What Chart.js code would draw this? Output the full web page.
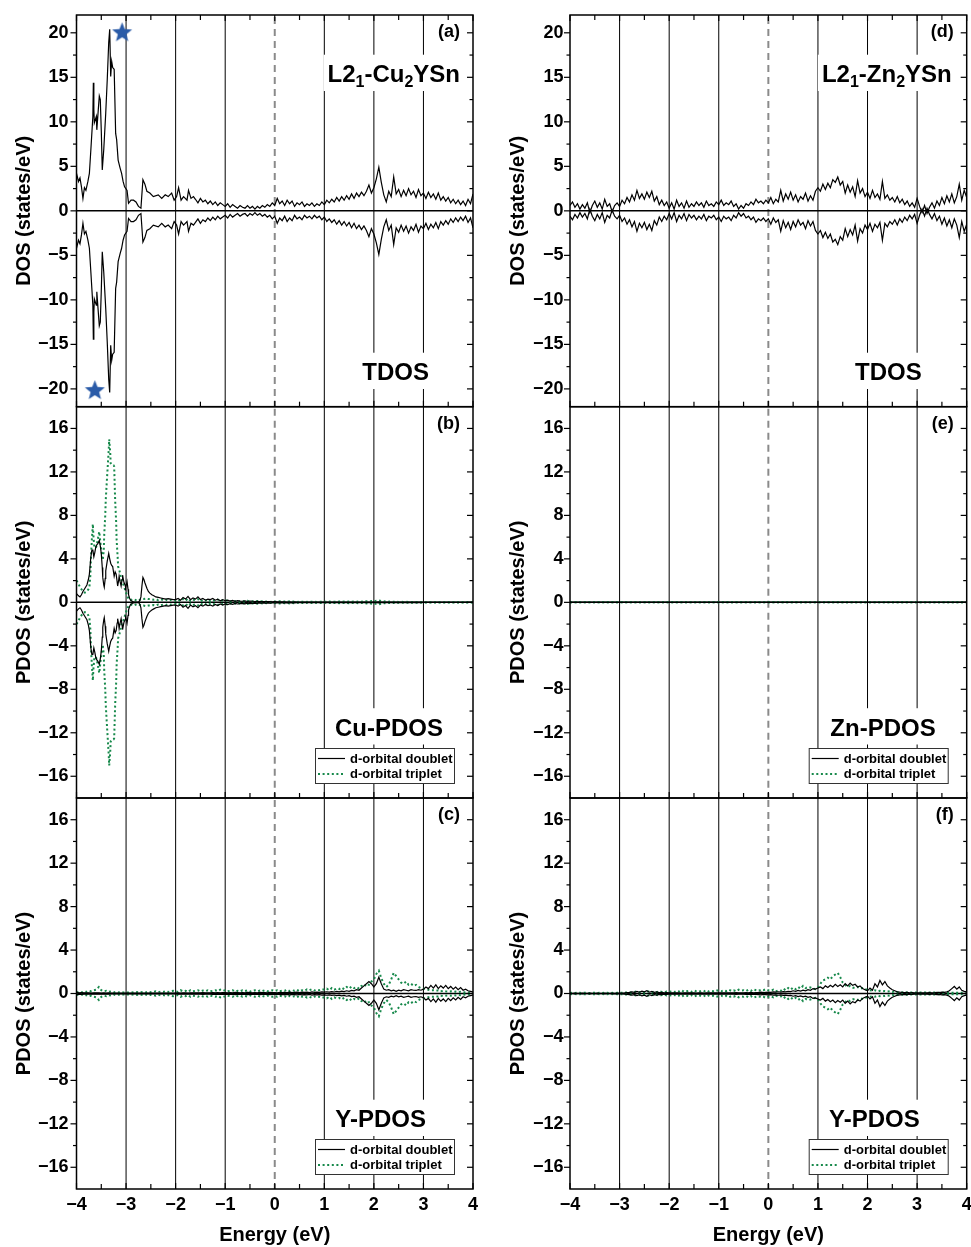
<!DOCTYPE html>
<html><head><meta charset="utf-8">
<script src="https://cdn.jsdelivr.net/npm/chart.js@4.4.1/dist/chart.umd.min.js"></script>
<style>
html,body{margin:0;padding:0;background:#fff;}
#wrap{position:relative;width:971px;height:1247px;overflow:hidden;}
#wrap canvas{position:absolute;left:0;top:0;}
</style></head><body>
<div id="wrap">
<canvas id="pa" width="971" height="1247"></canvas>
<canvas id="pb" width="971" height="1247"></canvas>
<canvas id="pc" width="971" height="1247"></canvas>
<canvas id="pd" width="971" height="1247"></canvas>
<canvas id="pe" width="971" height="1247"></canvas>
<canvas id="pf" width="971" height="1247"></canvas>
</div>
<script>
// ---------------- DATA ----------------
const energyStep = 0.05;
const xTicks = [-4, -3, -2, -1, 0, 1, 2, 3, 4];
const refLinesE = [-3, -2, -1, 1, 2, 3];
const fermiE = 0;
const dosTicks = [-20, -15, -10, -5, 0, 5, 10, 15, 20];
const pdosTicks = [-16, -12, -8, -4, 0, 4, 8, 12, 16];

// (a) Cu2YSn TDOS, spin up (spin down is its mirror image)
const cuTdosPeakE = [-4.00,-3.96,-3.93,-3.90,-3.87,-3.84,-3.81,-3.77,-3.74,-3.71,
  -3.67,-3.66,-3.65,-3.64,-3.60,-3.59,-3.56,-3.54,-3.52,-3.50,
  -3.48,-3.45,-3.41,-3.38,-3.35,-3.33,-3.31,-3.29,-3.27,-3.24,
  -3.21,-3.19,-3.16,-3.12,-3.09,-3.06,-3.03,-2.98,-2.95,-2.90,
  -2.85,-2.80,-2.75,-2.70,-2.66,-2.62,-2.58,-2.52,-2.45,-2.35,
  -2.28,-2.21,-2.15,-2.08,-2.03,-1.98,-1.94,-1.89,-1.84,-1.77,
  -1.74,-1.69,-1.64];
const cuTdosPeakUp = [4.2,3.3,3.7,2.7,1.4,2.6,2.3,3.3,4.2,6.9,
  10.6,14.4,11.4,9.9,10.6,9.1,11.4,12.9,12.5,9.0,
  4.6,6.9,11.0,14.7,18.9,20.4,15.1,16.8,16.1,15.9,
  8.7,8.0,5.7,4.8,4.2,3.3,2.7,2.3,0.85,1.2,
  1.2,1.0,0.5,0.3,3.5,3.0,2.2,2.0,1.6,1.8,
  1.4,1.8,1.6,2.0,1.2,1.6,2.6,1.2,1.6,1.2,
  2.3,1.4,1.6];
const cuTdosTailStart = -1.60;
const cuTdosTailUp = [1.3,0.9,1.4,1.0,1.2,0.8,1.1,0.7,1.0,0.6,0.9,0.7,
  0.5,0.8,0.4,0.7,0.5,0.3,0.6,0.4,0.3,0.6,0.3,0.5,0.2,0.5,0.3,0.6,0.4,0.7,0.5,0.9,
  0.6,1.4,0.8,1.1,0.6,1.2,0.8,1.1,0.5,0.9,0.7,1.0,0.5,0.8,0.6,0.9,0.5,0.8,0.6,1.0,
  0.7,1.2,0.9,1.3,1.0,1.5,1.1,1.6,1.2,1.7,1.3,1.9,1.4,2.0,1.6,2.1,1.7,2.2,2.9,2.0,
  2.6,3.6,4.9,3.2,1.8,1.0,2.2,1.6,3.8,1.9,2.4,1.6,2.3,1.7,2.5,1.8,2.2,1.5,2.4,1.7,
  2.0,1.4,2.1,1.5,1.9,1.3,2.0,1.2,1.6,1.1,1.5,0.9,1.3,0.8,1.2,0.7,1.1,0.6,1.3,0.8,
  1.9];
const starE = [-3.08, -3.63];
const starDos = [20.0, -20.2];

// (d) Zn2YSn TDOS, spin up, from -4 eV every 0.05 eV
const znTdosStart = -4.00;
const znTdosUp = [0.6,1.0,0.4,0.8,0.2,0.7,0.3,0.9,-0.2,0.6,1.1,0.4,0.9,0.2,1.3,0.5,0.8,-0.1,0.6,0.9,
  0.5,1.2,0.8,1.5,1.0,1.8,1.2,2.3,1.4,1.9,1.3,2.1,1.5,2.2,1.1,1.6,0.7,1.2,0.6,1.0,
  0.3,0.9,0.2,1.2,0.5,0.9,0.3,1.1,0.4,0.8,0.5,1.0,0.6,0.9,0.4,1.1,0.6,0.8,0.5,1.0,
  0.7,1.2,0.6,0.9,0.7,1.1,0.5,0.8,0.2,0.6,0.3,0.8,0.6,1.0,0.7,1.3,0.9,1.1,0.8,1.2,
  0.9,1.5,0.8,1.3,1.0,2.3,1.1,1.9,1.3,2.1,1.2,1.8,1.0,1.6,1.3,2.0,1.1,1.7,1.2,2.2,
  2.6,2.2,3.0,2.4,3.1,2.6,3.5,3.2,3.8,2.9,3.3,2.0,2.9,2.1,2.7,1.6,3.4,2.0,2.5,1.6,
  2.1,1.4,2.3,1.5,1.9,1.3,3.3,1.4,1.8,1.2,1.5,1.0,1.6,0.9,1.3,0.7,1.1,0.5,0.9,0.4,
  1.4,0.5,-0.2,0.6,-0.3,0.4,0.9,0.3,1.1,0.6,1.5,0.8,1.7,1.0,1.9,0.9,1.6,3.0,1.2,2.3,
  1.5];

// (b) Cu-PDOS, spin up
const cuDoubletPeakE = [-4.00,-3.96,-3.93,-3.90,-3.87,-3.83,-3.79,-3.76,-3.74,-3.71,
  -3.69,-3.67,-3.65,-3.63,-3.61,-3.59,-3.57,-3.55,-3.54,-3.52,
  -3.50,-3.48,-3.47,-3.45,-3.44,-3.42,-3.41,-3.38,-3.35,-3.33,
  -3.31,-3.29,-3.27,-3.25,-3.24,-3.22,-3.20,-3.18,-3.17,-3.15,
  -3.14,-3.12,-3.10,-3.08,-3.07,-3.05,-3.04,-3.02,-3.01,-2.99,
  -2.98,-2.96,-2.95,-2.93,-2.91,-2.88,-2.85,-2.80,-2.75,-2.72,
  -2.70,-2.68,-2.66,-2.64,-2.62,-2.58,-2.55,-2.52,-2.48,-2.44,
  -2.40,-2.35,-2.30,-2.25,-2.20,-2.15,-2.10,-2.05];
const cuDoubletPeakUp = [0.8,0.6,0.5,0.7,1.0,1.3,1.6,2.1,2.6,4.2,
  4.8,4.8,4.2,4.6,5.1,5.3,5.4,5.6,5.7,5.2,
  4.5,3.2,2.3,1.6,1.4,2.2,2.9,3.8,4.5,4.0,
  3.6,3.4,3.3,2.7,2.4,2.8,2.6,1.9,1.5,2.0,
  2.4,1.9,1.5,2.1,2.5,2.0,1.8,1.6,1.4,1.7,
  1.9,1.2,0.7,0.4,0.2,0.1,0.05,0.03,0.0,0.2,
  0.5,1.5,2.3,2.1,1.8,1.3,1.0,0.85,0.7,0.6,
  0.5,0.45,0.4,0.35,0.3,0.35,0.3,0.25];
const cuTripletPeakE = [-4.00,-3.96,-3.93,-3.90,-3.87,-3.83,-3.79,-3.76,-3.74,-3.72,
  -3.71,-3.69,-3.67,-3.66,-3.64,-3.61,-3.59,-3.57,-3.55,-3.54,
  -3.52,-3.50,-3.48,-3.47,-3.45,-3.44,-3.42,-3.41,-3.39,-3.37,
  -3.35,-3.34,-3.32,-3.31,-3.29,-3.27,-3.25,-3.24,-3.22,-3.20,
  -3.19,-3.17,-3.16,-3.12,-3.09,-3.06,-3.04,-3.01,-2.97,-2.94,
  -2.91,-2.85,-2.80,-2.75,-2.70,-2.65,-2.60,-2.55,-2.50,-2.45,
  -2.40,-2.35,-2.30,-2.25,-2.20,-2.15,-2.10,-2.05];
const cuTripletPeakUp = [2.0,1.7,1.4,1.2,1.0,0.9,1.0,1.2,1.4,2.5,
  3.9,5.8,7.2,6.2,5.1,5.0,5.3,5.8,6.3,6.5,
  5.6,4.8,4.2,3.9,4.8,6.3,8.0,9.4,11.0,12.5,
  14.0,15.0,13.8,12.8,12.7,12.6,12.6,12.5,9.4,7.4,
  5.7,4.2,3.3,2.7,2.0,1.7,1.5,1.0,0.5,0.3,
  0.2,0.3,0.2,0.15,0.3,0.3,0.35,0.3,0.3,0.25,
  0.3,0.2,0.28,0.2,0.25,0.15,0.22,0.18];
const cuPdosTailStart = -2.00;
const cuDoubletTailUp = [0.25,0.35,0.2,0.45,0.3,0.55,0.25,0.4,0.3,0.5,0.25,0.35,0.2,0.3,0.25,0.35,0.2,0.3,0.15,0.25,
  0.15,0.2,0.12,0.18,0.1,0.15,0.12,0.1,0.14,0.08,0.12,0.1,0.08,0.1,0.06,0.08,0.07,0.06,0.08,0.05,
  0.06,0.05,0.04,0.05,0.04,0.03,0.04,0.03,0.04,0.03,0.03,0.02,0.03,0.02,0.03,0.02,0.02,0.03,0.02,0.02,
  0.02,0.02,0.03,0.02,0.02,0.02,0.03,0.02,0.02,0.02,0.03,0.02,0.02,0.02,0.03,0.02,0.02,0.02,0.03,0.02,
  0.02,0.03,0.04,0.03,0.02,0.02,0.02,0.02,0.02,0.02,0.02,0.02,0.02,0.02,0.02,0.02,0.02,0.02,0.02,0.02,
  0.01,0.01,0.01,0.01,0.01,0.01,0.01,0.01,0.01,0.01,0.01,0.01,0.01,0.01,0.01,0.01,0.01,0.01,0.01,0.01,
  0.01];
const cuTripletTailUp = [0.15,0.25,0.1,0.3,0.15,0.35,0.12,0.25,0.18,0.3,0.1,0.22,0.15,0.28,0.1,0.2,0.12,0.25,0.1,0.18,
  0.12,0.2,0.08,0.15,0.1,0.18,0.06,0.12,0.08,0.15,0.06,0.1,0.05,0.12,0.06,0.1,0.05,0.08,0.04,0.06,
  0.08,0.05,0.1,0.04,0.08,0.05,0.1,0.06,0.08,0.04,0.06,0.05,0.07,0.04,0.06,0.05,0.07,0.04,0.06,0.05,
  0.06,0.04,0.07,0.05,0.06,0.04,0.08,0.05,0.07,0.05,0.08,0.06,0.07,0.05,0.09,0.06,0.08,0.1,0.07,0.12,
  0.1,0.15,0.18,0.12,0.08,0.1,0.06,0.08,0.05,0.07,0.04,0.05,0.04,0.05,0.03,0.04,0.03,0.04,0.03,0.03,
  0.02,0.02,0.02,0.02,0.02,0.02,0.02,0.02,0.02,0.02,0.02,0.02,0.02,0.02,0.02,0.02,0.02,0.02,0.02,0.02,
  0.02];

// (e) Zn-PDOS (flat at zero)
const znPdosE = [-4, 4];
const znDoubletUp = [0, 0];
const znTripletUp = [0, 0];

// (c) Y-PDOS in Cu2YSn, spin up, from -4 eV every 0.05 eV
const yPdosStart = -4.00;
const yCuDoubletUp = [0.1,0.05,0.08,0.05,0.06,0.05,0.04,0.05,0.06,0.05,0.04,0.05,0.04,0.05,0.04,0.03,0.04,0.03,0.04,0.03,
  0.03,0.04,0.03,0.03,0.04,0.03,0.04,0.03,0.03,0.04,0.03,0.04,0.03,0.04,0.03,0.04,0.04,0.03,0.04,0.04,
  0.04,0.05,0.04,0.06,0.05,0.04,0.06,0.05,0.07,0.05,0.06,0.08,0.05,0.07,0.06,0.08,0.06,0.09,0.07,0.08,
  0.08,0.06,0.09,0.07,0.1,0.08,0.06,0.09,0.07,0.1,0.08,0.06,0.09,0.07,0.1,0.08,0.09,0.07,0.1,0.08,
  0.09,0.07,0.1,0.08,0.11,0.09,0.12,0.08,0.1,0.12,0.09,0.13,0.1,0.12,0.09,0.14,0.1,0.13,0.11,0.15,
  0.12,0.16,0.13,0.18,0.14,0.2,0.16,0.22,0.18,0.25,0.2,0.28,0.25,0.35,0.3,0.5,0.7,0.9,1.1,0.9,
  0.6,0.9,1.5,0.9,0.4,0.3,0.35,0.25,0.3,0.2,0.3,0.25,0.35,0.3,0.25,0.35,0.3,0.28,0.35,0.3,
  0.4,0.6,0.45,0.75,0.5,0.8,0.45,0.7,0.5,0.75,0.45,0.65,0.4,0.6,0.35,0.55,0.3,0.4,0.25,0.2,
  0.15];
const yCuTripletUp = [0.1,0.15,0.1,0.2,0.15,0.25,0.2,0.3,0.35,0.6,0.3,0.2,0.25,0.15,0.2,0.1,0.15,0.1,0.12,0.1,
  0.08,0.1,0.12,0.1,0.15,0.1,0.12,0.15,0.1,0.18,0.12,0.15,0.2,0.12,0.18,0.15,0.22,0.15,0.2,0.25,
  0.2,0.15,0.3,0.2,0.25,0.15,0.3,0.2,0.25,0.3,0.2,0.28,0.22,0.3,0.2,0.25,0.3,0.22,0.35,0.25,
  0.3,0.2,0.25,0.3,0.18,0.25,0.2,0.3,0.22,0.28,0.18,0.25,0.3,0.2,0.28,0.22,0.3,0.2,0.25,0.3,
  0.22,0.3,0.2,0.28,0.25,0.35,0.22,0.3,0.25,0.35,0.2,0.3,0.25,0.38,0.3,0.4,0.28,0.35,0.3,0.4,
  0.35,0.45,0.3,0.5,0.35,0.45,0.4,0.55,0.4,0.6,0.45,0.65,0.5,0.6,0.45,0.7,0.6,0.9,0.8,1.1,
  1.3,1.8,2.1,1.4,0.9,0.6,0.8,1.3,1.9,1.6,1.3,1.0,0.9,1.1,0.8,0.9,0.7,0.8,0.6,0.5,
  0.45,0.4,0.35,0.3,0.3,0.25,0.3,0.2,0.25,0.2,0.18,0.2,0.15,0.18,0.12,0.15,0.1,0.12,0.1,0.08,
  0.08];

// (f) Y-PDOS in Zn2YSn, spin up, from -4 eV every 0.05 eV
const yZnDoubletUp = [0.02,0.02,0.03,0.02,0.02,0.03,0.02,0.02,0.03,0.02,0.02,0.03,0.02,0.02,0.03,0.02,0.02,0.03,0.02,0.03,
  0.03,0.04,0.05,0.08,0.1,0.15,0.1,0.2,0.12,0.22,0.15,0.25,0.12,0.2,0.1,0.15,0.08,0.1,0.06,0.08,
  0.06,0.05,0.07,0.05,0.06,0.04,0.06,0.05,0.07,0.05,0.06,0.04,0.05,0.06,0.04,0.05,0.06,0.05,0.07,0.05,
  0.06,0.05,0.07,0.06,0.05,0.07,0.06,0.08,0.06,0.07,0.05,0.08,0.06,0.1,0.07,0.09,0.1,0.12,0.08,0.1,
  0.12,0.1,0.14,0.12,0.16,0.13,0.18,0.15,0.2,0.18,0.25,0.2,0.28,0.22,0.3,0.25,0.35,0.3,0.45,0.4,
  0.5,0.6,0.45,0.7,0.55,0.75,0.6,0.85,0.65,0.8,0.6,0.9,0.7,0.95,0.75,0.85,0.6,0.7,0.45,0.35,
  0.25,0.5,0.3,0.9,0.6,1.2,0.8,1.1,0.7,0.5,0.35,0.25,0.15,0.12,0.1,0.08,0.1,0.07,0.08,0.06,
  0.06,0.05,0.07,0.06,0.05,0.08,0.06,0.07,0.1,0.08,0.12,0.1,0.15,0.25,0.45,0.65,0.4,0.6,0.3,0.2,
  0.15];
const yZnTripletUp = [0.05,0.06,0.05,0.07,0.06,0.05,0.07,0.06,0.05,0.06,0.07,0.05,0.06,0.05,0.07,0.06,0.05,0.06,0.05,0.06,
  0.06,0.07,0.08,0.1,0.12,0.1,0.15,0.2,0.12,0.18,0.1,0.22,0.15,0.1,0.18,0.12,0.2,0.15,0.1,0.18,
  0.15,0.2,0.12,0.25,0.18,0.3,0.15,0.2,0.25,0.15,0.28,0.2,0.15,0.25,0.2,0.3,0.18,0.25,0.2,0.3,
  0.25,0.2,0.3,0.22,0.35,0.25,0.3,0.2,0.35,0.28,0.3,0.22,0.35,0.25,0.4,0.3,0.25,0.35,0.3,0.4,
  0.3,0.25,0.35,0.2,0.3,0.25,0.45,0.3,0.5,0.35,0.55,0.4,0.6,0.45,0.7,0.5,0.6,0.55,0.45,0.4,
  0.55,0.9,1.2,1.3,1.45,1.3,1.6,1.75,1.9,1.5,1.0,0.8,0.6,0.7,0.55,0.5,0.6,0.45,0.5,0.4,
  0.35,0.3,0.25,0.3,0.2,0.25,0.2,0.22,0.18,0.2,0.15,0.18,0.12,0.15,0.1,0.12,0.1,0.12,0.08,0.1,
  0.08,0.1,0.08,0.1,0.07,0.09,0.08,0.1,0.07,0.08,0.1,0.08,0.07,0.1,0.08,0.06,0.08,0.07,0.06,0.08,
  0.07];

// ---------------- BUILD ----------------
const W = 971, H = 1247;
const FONT = '"Liberation Sans", Arial, Helvetica, sans-serif';
Chart.defaults.font.family = FONT;
Chart.defaults.color = '#000';
const GREEN = '#17894b';
const Y_AXIS_W = 76, X_AXIS_H = 58;

const onGrid = (start, vals) => vals.map((v, i) => ({x: +(start + i * energyStep).toFixed(2), y: v}));
const paired = (es, vals) => vals.map((v, i) => ({x: es[i], y: v}));
const mirror = pts => pts.map(p => ({x: p.x, y: -p.y}));
const fmt = v => (v < 0 ? '\u2212' : '') + Math.abs(v);

function lineDs(pts, kind) {
  const trip = kind === 'triplet';
  return {data: pts, showLine: true, pointRadius: 0, pointHoverRadius: 0,
    borderWidth: trip ? 2 : 1.2, borderColor: trip ? GREEN : '#000',
    borderDash: trip ? [2, 2.6] : [], tension: 0, fill: false};
}
function pairDs(up, kind) { return [lineDs(up, kind), lineDs(mirror(up), kind)]; }

function makeStar(r, color) {
  const s = Math.ceil(2 * r + 2);
  const c = document.createElement('canvas'); c.width = s; c.height = s;
  const g = c.getContext('2d'); g.fillStyle = color; g.beginPath();
  for (let i = 0; i < 10; i++) {
    const ang = -Math.PI / 2 + i * Math.PI / 5, rr = (i % 2) ? r * 0.43 : r;
    g.lineTo(s / 2 + rr * Math.cos(ang), s / 2 + rr * Math.sin(ang));
  }
  g.closePath(); g.fill(); return c;
}

function minorOf(ticks, min, max) {
  const out = [], step = ticks[1] - ticks[0];
  const all = [ticks[0] - step].concat(ticks, [ticks[ticks.length - 1] + step]);
  for (let i = 0; i < all.length - 1; i++) { const m = (all[i] + all[i + 1]) / 2; if (m > min && m < max) out.push(m); }
  return out;
}

function drawLabel(ctx, parts, rightX, baseY, size, box) {
  const subSize = Math.round(size * 0.66);
  let total = 0;
  const widths = parts.map(([t, sub]) => { ctx.font = 'bold ' + (sub ? subSize : size) + 'px ' + FONT; const w = ctx.measureText(t).width; total += w; return w; });
  let x = rightX - total;
  if (box) {
    ctx.fillStyle = '#fff';
    ctx.fillRect(x - 4, baseY - size * 0.72 - 10, total + 8, size * 0.72 + 19);
  }
  ctx.fillStyle = '#000'; ctx.textBaseline = 'alphabetic'; ctx.textAlign = 'left';
  parts.forEach(([t, sub], i) => {
    ctx.font = 'bold ' + (sub ? subSize : size) + 'px ' + FONT;
    ctx.fillText(t, x, baseY + (sub ? 5 : 0));
    x += widths[i];
  });
}

function decoPlugin(cfg) {
  return {
    id: 'deco',
    beforeDatasetsDraw(chart) {
      const {ctx, chartArea: a} = chart, x = chart.scales.x, y = chart.scales.y;
      ctx.save();
      ctx.beginPath(); ctx.rect(a.left, a.top, a.right - a.left, a.bottom - a.top); ctx.clip();
      ctx.strokeStyle = '#000'; ctx.lineWidth = 1;
      refLinesE.forEach(v => { const p = x.getPixelForValue(v); ctx.beginPath(); ctx.moveTo(p, a.top); ctx.lineTo(p, a.bottom); ctx.stroke(); });
      ctx.strokeStyle = '#8a8a8a'; ctx.lineWidth = 2; ctx.setLineDash([7, 5]);
      const pf = x.getPixelForValue(fermiE);
      ctx.beginPath(); ctx.moveTo(pf, a.top + 2); ctx.lineTo(pf, a.bottom); ctx.stroke();
      ctx.setLineDash([]);
      ctx.strokeStyle = '#000'; ctx.lineWidth = 1.5;
      const y0 = y.getPixelForValue(0);
      ctx.beginPath(); ctx.moveTo(a.left, y0); ctx.lineTo(a.right, y0); ctx.stroke();
      ctx.restore();
    },
    afterDatasetsDraw(chart) {
      const {ctx, chartArea: a} = chart;
      ctx.save();
      cfg.labels.forEach(l => {
        const base = l.fromTop !== undefined ? a.top + l.fromTop : a.bottom - l.fromBottom;
        drawLabel(ctx, l.parts, a.right - l.right, base, l.size, l.box);
      });
      if (cfg.legend) {
        const lw = 139, lh = 35, lx = a.right - 19 - lw, ly = a.bottom - 15 - lh;
        ctx.fillStyle = '#fff'; ctx.fillRect(lx, ly, lw, lh);
        ctx.strokeStyle = '#333'; ctx.lineWidth = 1; ctx.strokeRect(lx + 0.5, ly + 0.5, lw, lh);
        const rows = [['d-orbital doublet', 'doublet'], ['d-orbital triplet', 'triplet']];
        rows.forEach(([txt, kind], i) => {
          const ry = ly + 10.5 + i * 15.5;
          ctx.beginPath(); ctx.moveTo(lx + 3, ry); ctx.lineTo(lx + 30, ry);
          if (kind === 'triplet') { ctx.strokeStyle = GREEN; ctx.lineWidth = 2; ctx.setLineDash([2, 2.6]); }
          else { ctx.strokeStyle = '#000'; ctx.lineWidth = 1.2; ctx.setLineDash([]); }
          ctx.stroke(); ctx.setLineDash([]);
          ctx.fillStyle = '#000'; ctx.font = 'bold 13px ' + FONT; ctx.textBaseline = 'middle'; ctx.textAlign = 'left';
          ctx.fillText(txt, lx + 35, ry + 0.5);
        });
      }
      ctx.restore();
    },
    afterDraw(chart) {
      const {ctx, chartArea: a} = chart, x = chart.scales.x, y = chart.scales.y;
      ctx.save();
      ctx.strokeStyle = '#000'; ctx.lineWidth = 1.5;
      ctx.strokeRect(a.left, a.top, a.right - a.left, a.bottom - a.top);
      ctx.lineWidth = 1.2;
      const seg = (x1, y1, x2, y2) => { ctx.beginPath(); ctx.moveTo(x1, y1); ctx.lineTo(x2, y2); ctx.stroke(); };
      const yt = cfg.yTicks, ym = minorOf(yt, cfg.yMin, cfg.yMax);
      yt.forEach(v => { const p = y.getPixelForValue(v); seg(a.left - 6, p, a.left, p); seg(a.right - 6, p, a.right, p); });
      ym.forEach(v => { const p = y.getPixelForValue(v); seg(a.left - 3.5, p, a.left, p); seg(a.right - 3.5, p, a.right, p); });
      const xm = minorOf(xTicks, -4, 4);
      xTicks.forEach(v => { const p = x.getPixelForValue(v); seg(p, a.bottom, p, a.bottom - 6); if (cfg.topTicks) seg(p, a.top, p, a.top + 6); });
      xm.forEach(v => { const p = x.getPixelForValue(v); seg(p, a.bottom, p, a.bottom - 5); if (cfg.topTicks) seg(p, a.top, p, a.top + 5); });
      ctx.restore();
    }
  };
}

function makePanel(id, cfg) {
  const bottomPad = H - cfg.B - (cfg.showX ? X_AXIS_H : 0);
  return new Chart(document.getElementById(id), {
    type: 'scatter',
    data: {datasets: cfg.datasets},
    options: {
      responsive: false, animation: false, devicePixelRatio: 1,
      events: [],
      layout: {padding: {left: cfg.L - Y_AXIS_W, top: cfg.T, right: W - cfg.R, bottom: bottomPad}},
      plugins: {legend: {display: false}, tooltip: {enabled: false}},
      scales: {
        x: {
          type: 'linear', min: -4, max: 4, display: cfg.showX,
          grid: {display: false, drawTicks: false}, border: {display: false},
          afterBuildTicks: ax => { ax.ticks = xTicks.map(v => ({value: v})); },
          afterFit: ax => { ax.height = cfg.showX ? X_AXIS_H : 0; ax.paddingLeft = 0; ax.paddingRight = 0; },
          ticks: {font: {size: 18, weight: 'bold'}, color: '#000', padding: 5, maxRotation: 0, autoSkip: false, callback: v => fmt(v)},
          title: {display: true, text: 'Energy (eV)', font: {size: 20, weight: 'bold'}, color: '#000', padding: {top: 0, bottom: 0}}
        },
        y: {
          type: 'linear', min: cfg.yMin, max: cfg.yMax,
          grid: {display: false, drawTicks: false}, border: {display: false},
          afterBuildTicks: ax => { ax.ticks = cfg.yTicks.map(v => ({value: v})); },
          afterFit: ax => { ax.width = Y_AXIS_W; ax.paddingTop = 0; ax.paddingBottom = 0; },
          ticks: {font: {size: 18, weight: 'bold'}, color: '#000', padding: cfg.tickPad, autoSkip: false, callback: v => fmt(v)},
          title: {display: true, text: cfg.yTitle, font: {size: 20, weight: 'bold'}, color: '#000', padding: {top: 12, bottom: 0}}
        }
      }
    },
    plugins: [decoPlugin(cfg)]
  });
}

const COL = [{L: 76.5, R: 473, tickPad: 8}, {L: 570, R: 966.7, tickPad: 6.5}];
const ROW = [{T: 15, B: 406.7}, {T: 406.7, B: 798}, {T: 798, B: 1189}];
const tag = t => ({parts: [[t, false]], right: 13, fromTop: 22, size: 18, box: false});

// (a)
const cuTdosUp = paired(cuTdosPeakE, cuTdosPeakUp).concat(onGrid(cuTdosTailStart, cuTdosTailUp));
const starDs = {data: paired(starE, starDos), showLine: false, pointStyle: makeStar(10.5, '#2a5ba8'), pointRadius: 10, clip: false};
makePanel('pa', Object.assign({}, COL[0], ROW[0], {
  yMin: -22, yMax: 22, yTicks: dosTicks, yTitle: 'DOS (states/eV)', showX: false, topTicks: true, legend: false,
  datasets: pairDs(cuTdosUp, 'doublet').concat([starDs]),
  labels: [tag('(a)'),
    {parts: [['L2', false], ['1', true], ['-Cu', false], ['2', true], ['YSn', false]], right: 13, fromTop: 67, size: 24, box: true},
    {parts: [['TDOS', false]], right: 44, fromTop: 365, size: 24, box: true}]
}));
// (d)
makePanel('pd', Object.assign({}, COL[1], ROW[0], {
  yMin: -22, yMax: 22, yTicks: dosTicks, yTitle: 'DOS (states/eV)', showX: false, topTicks: true, legend: false,
  datasets: pairDs(onGrid(znTdosStart, znTdosUp), 'doublet'),
  labels: [tag('(d)'),
    {parts: [['L2', false], ['1', true], ['-Zn', false], ['2', true], ['YSn', false]], right: 15, fromTop: 67, size: 24, box: true},
    {parts: [['TDOS', false]], right: 45, fromTop: 365, size: 24, box: true}]
}));
// (b)
const cuDUp = paired(cuDoubletPeakE, cuDoubletPeakUp).concat(onGrid(cuPdosTailStart, cuDoubletTailUp));
const cuTUp = paired(cuTripletPeakE, cuTripletPeakUp).concat(onGrid(cuPdosTailStart, cuTripletTailUp));
makePanel('pb', Object.assign({}, COL[0], ROW[1], {
  yMin: -18, yMax: 18, yTicks: pdosTicks, yTitle: 'PDOS (states/eV)', showX: false, topTicks: false, legend: true,
  datasets: pairDs(cuDUp, 'doublet').concat(pairDs(cuTUp, 'triplet')),
  labels: [tag('(b)'), {parts: [['Cu-PDOS', false]], right: 30, fromBottom: 62.5, size: 24, box: true}]
}));
// (e)
makePanel('pe', Object.assign({}, COL[1], ROW[1], {
  yMin: -18, yMax: 18, yTicks: pdosTicks, yTitle: 'PDOS (states/eV)', showX: false, topTicks: false, legend: true,
  datasets: pairDs(paired(znPdosE, znDoubletUp), 'doublet').concat(pairDs(paired(znPdosE, znTripletUp), 'triplet')),
  labels: [tag('(e)'), {parts: [['Zn-PDOS', false]], right: 31, fromBottom: 62.5, size: 24, box: true}]
}));
// (c)
makePanel('pc', Object.assign({}, COL[0], ROW[2], {
  yMin: -18, yMax: 18, yTicks: pdosTicks, yTitle: 'PDOS (states/eV)', showX: true, topTicks: false, legend: true,
  datasets: pairDs(onGrid(yPdosStart, yCuDoubletUp), 'doublet').concat(pairDs(onGrid(yPdosStart, yCuTripletUp), 'triplet')),
  labels: [tag('(c)'), {parts: [['Y-PDOS', false]], right: 47, fromBottom: 62, size: 24, box: true}]
}));
// (f)
makePanel('pf', Object.assign({}, COL[1], ROW[2], {
  yMin: -18, yMax: 18, yTicks: pdosTicks, yTitle: 'PDOS (states/eV)', showX: true, topTicks: false, legend: true,
  datasets: pairDs(onGrid(yPdosStart, yZnDoubletUp), 'doublet').concat(pairDs(onGrid(yPdosStart, yZnTripletUp), 'triplet')),
  labels: [tag('(f)'), {parts: [['Y-PDOS', false]], right: 47, fromBottom: 62, size: 24, box: true}]
}));
</script>
</body></html>
